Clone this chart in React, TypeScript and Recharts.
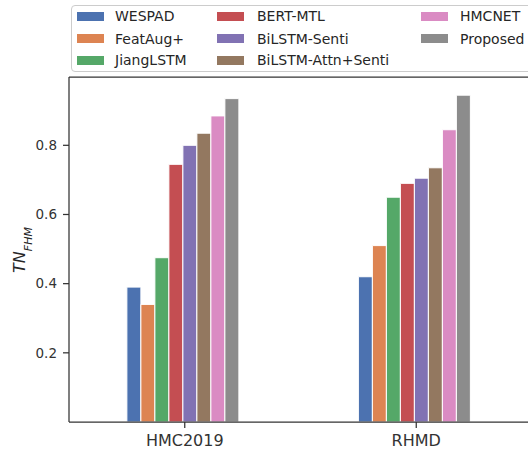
import React from 'react';
import { BarChart, Bar, XAxis, YAxis, Legend, ReferenceLine } from 'recharts';

const categories = ['HMC2019', 'RHMD'];
const seriesNames = ['WESPAD', 'FeatAug+', 'JiangLSTM', 'BERT-MTL', 'BiLSTM-Senti', 'BiLSTM-Attn+Senti', 'HMCNET', 'Proposed'];
const seriesColors = ['#4C72B0', '#DD8452', '#55A868', '#C44E52', '#8172B3', '#937860', '#DA8BC3', '#8C8C8C'];
const wespad = [0.39, 0.42];
const featAug = [0.34, 0.51];
const jiangLSTM = [0.475, 0.65];
const bertMTL = [0.745, 0.69];
const bilstmSenti = [0.80, 0.705];
const bilstmAttnSenti = [0.835, 0.735];
const hmcnet = [0.885, 0.845];
const proposed = [0.935, 0.945];
const yTicks = [0.2, 0.4, 0.6, 0.8];
const yMax = 0.9975;

const seriesValues = [wespad, featAug, jiangLSTM, bertMTL, bilstmSenti, bilstmAttnSenti, hmcnet, proposed];

const data = categories.map((c, ci) => {
  const row: Record<string, any> = { cat: c };
  seriesNames.forEach((n, si) => {
    row[n] = seriesValues[si][ci];
  });
  return row;
});

const FONT = '"DejaVu Sans", sans-serif';
const AXIS = '#333333';

const colPatchX = [6, 146, 350];
const colTextX = [44, 186, 389];
const rowY = [11, 33.5, 55];

const renderLegend = () => {
  return (
    <div
      style={{
        position: 'relative',
        width: 470,
        height: 67,
        border: '1px solid #cccccc',
        borderRadius: 4,
        background: 'rgba(255,255,255,0.8)',
        fontFamily: FONT,
        fontSize: 14,
        color: '#262626',
        boxSizing: 'border-box',
      }}
    >
      {seriesNames.map((name, i) => {
        const col = Math.floor(i / 3);
        const row = i % 3;
        return (
          <React.Fragment key={name}>
            <div
              style={{
                position: 'absolute',
                left: colPatchX[col] - 1,
                top: rowY[row] - 4.5 - 1,
                width: 27,
                height: 9,
                background: seriesColors[i],
              }}
            />
            <div
              style={{
                position: 'absolute',
                left: colTextX[col] - 1,
                top: rowY[row] - 9 - 1,
                lineHeight: '18px',
                whiteSpace: 'nowrap',
              }}
            >
              {name}
            </div>
          </React.Fragment>
        );
      })}
    </div>
  );
};

const YLabel = () => (
  <text
    x={25}
    y={250}
    transform="rotate(-90, 25, 250)"
    textAnchor="middle"
    fill="#262626"
    fontFamily={FONT}
  >
    <tspan fontSize={16} fontStyle="italic">TN</tspan>
    <tspan fontSize={11} fontStyle="italic" dy={7}>FHM</tspan>
  </text>
);

export default function App() {
  return (
    <div style={{ position: 'absolute', left: 0, top: 0, width: 528, height: 453, overflow: 'hidden', background: '#fff' }}>
      <BarChart
        width={540}
        height={453}
        data={data}
        margin={{ top: 77, right: 8, bottom: 0, left: 0 }}
        barCategoryGap="25%"
        barGap={0}
      >
        <XAxis
          dataKey="cat"
          height={31}
          tickSize={6}
          tickMargin={7}
          stroke={AXIS}
          axisLine={{ stroke: AXIS, strokeWidth: 1.25 }}
          tickLine={{ stroke: AXIS, strokeWidth: 1.25 }}
          tick={{ fill: '#333333', fontSize: 16, fontFamily: FONT }}
        />
        <YAxis
          width={69}
          domain={[0, yMax]}
          ticks={yTicks}
          tickSize={6}
          tickMargin={6}
          axisLine={{ stroke: AXIS, strokeWidth: 1.25 }}
          tickLine={{ stroke: AXIS, strokeWidth: 1.25 }}
          tick={{ fill: '#333333', fontSize: 13.5, fontFamily: FONT }}
          tickFormatter={(v: number) => v.toFixed(1)}
          label={{ content: () => <YLabel /> }}
        />
        <ReferenceLine y={yMax} stroke={AXIS} strokeWidth={1.25} ifOverflow="extendDomain" />
        <Legend
          layout="vertical"
          align="center"
          verticalAlign="middle"
          content={renderLegend}
          wrapperStyle={{ top: 5, left: 71, width: 470, height: 67 }}
        />
        {seriesNames.map((n, i) => (
          <Bar
            key={n}
            dataKey={n}
            fill={seriesColors[i]}
            stroke="#ffffff"
            strokeWidth={1}
            isAnimationActive={false}
          />
        ))}
      </BarChart>
    </div>
  );
}
